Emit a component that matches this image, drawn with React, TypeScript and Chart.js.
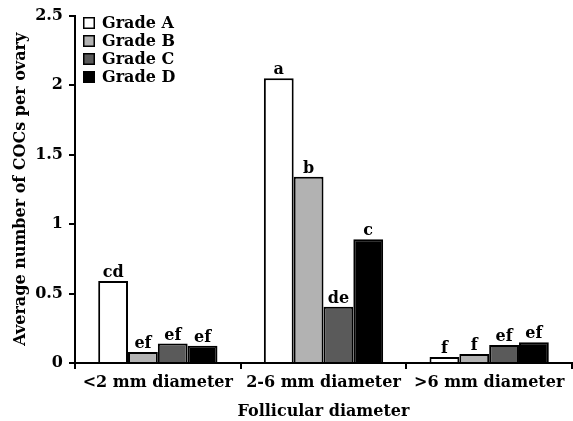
import React, { useEffect, useRef } from "react";
import { Chart, registerables } from "chart.js";

Chart.register(...registerables);

const categories = ["<2 mm diameter", "2-6 mm diameter", ">6 mm diameter"];
const seriesNames = ["Grade A", "Grade B", "Grade C", "Grade D"];
const gradeA = [0.59, 2.05, 0.043];
const gradeB = [0.08, 1.34, 0.065];
const gradeC = [0.14, 0.405, 0.13];
const gradeD = [0.125, 0.89, 0.15];
const lettersA = ["cd", "a", "f"];
const lettersB = ["ef", "b", "f"];
const lettersC = ["ef", "de", "ef"];
const lettersD = ["ef", "c", "ef"];
const yTicks = [0, 0.5, 1, 1.5, 2, 2.5];

const colors = ["#ffffff", "#b2b2b2", "#5a5a5a", "#000000"];
const FONT = "'DejaVu Serif'";

const labelPlugin = {
  id: "barLetters",
  afterDatasetsDraw(chart: any) {
    const ctx = chart.ctx;
    const letters = [lettersA, lettersB, lettersC, lettersD];
    ctx.save();
    ctx.fillStyle = "#000";
    ctx.font = `bold 16px ${FONT}`;
    ctx.textAlign = "center";
    ctx.textBaseline = "alphabetic";
    chart.data.datasets.forEach((ds: any, i: number) => {
      const meta = chart.getDatasetMeta(i);
      meta.data.forEach((bar: any, j: number) => {
        ctx.fillText(letters[i][j], bar.x, bar.y - 4);
      });
    });
    // legend
    const x0 = 83;
    const y0 = 23;
    const step = 18;
    chart.data.datasets.forEach((ds: any, i: number) => {
      const cy = y0 + i * step;
      ctx.fillStyle = ds.backgroundColor;
      ctx.fillRect(x0, cy - 6, 12, 12);
      ctx.strokeStyle = "#000";
      ctx.lineWidth = 1.5;
      ctx.strokeRect(x0 + 0.75, cy - 5.25, 10.5, 10.5);
      ctx.fillStyle = "#000";
      ctx.font = `bold 16px ${FONT}`;
      ctx.textAlign = "left";
      ctx.textBaseline = "middle";
      ctx.fillText(ds.label, x0 + 19, cy + 1);
    });
    ctx.restore();
  },
};

export default function App() {
  const ref = useRef<HTMLCanvasElement | null>(null);
  useEffect(() => {
    if (!ref.current) return;
    const values = [gradeA, gradeB, gradeC, gradeD];
    const chart = new Chart(ref.current, {
      type: "bar",
      data: {
        labels: categories,
        datasets: seriesNames.map((name, i) => ({
          label: name,
          data: values[i],
          backgroundColor: colors[i],
          borderColor: "#000",
          borderWidth: 2,
          categoryPercentage: 0.72,
          barPercentage: 1,
        })),
      },
      options: {
        responsive: false,
        animation: false,
        layout: { padding: { top: 15, right: 1, left: 0, bottom: 0 } },
        plugins: { legend: { display: false }, tooltip: { enabled: false } },
        scales: {
          x: {
            afterFit: (s: any) => {
              s.height = 58;
            },
            grid: {
              display: true,
              drawOnChartArea: false,
              drawTicks: true,
              tickLength: 6,
              color: "#000",
              lineWidth: 2,
            },
            border: { display: true, color: "#000", width: 2 },
            ticks: {
              color: "#000",
              padding: 4,
              font: { family: FONT, size: 16, weight: "bold" },
              maxRotation: 0,
            },
            title: {
              display: true,
              text: "Follicular diameter",
              color: "#000",
              font: { family: FONT, size: 16, weight: "bold" },
              padding: { top: 0, bottom: 0 },
            },
          },
          y: {
            min: 0,
            max: 2.5,
            afterFit: (s: any) => {
              s.width = 75;
            },
            afterBuildTicks: (s: any) => {
              s.ticks = yTicks.map((v) => ({ value: v }));
            },
            grid: {
              display: true,
              drawOnChartArea: false,
              drawTicks: true,
              tickLength: 6,
              color: "#000",
              lineWidth: 2,
            },
            border: { display: true, color: "#000", width: 2 },
            ticks: {
              color: "#000",
              padding: 6,
              font: { family: FONT, size: 16, weight: "bold" },
              callback: (v: any) => String(v),
            },
            title: {
              display: true,
              text: "Average number of COCs per ovary",
              color: "#000",
              font: { family: FONT, size: 16, weight: "bold" },
              padding: { top: 11, bottom: 0 },
            },
          },
        },
      },
      plugins: [labelPlugin],
    });
    return () => chart.destroy();
  }, []);
  return (
    <canvas
      ref={ref}
      width={573}
      height={421}
      style={{ position: "absolute", left: 0, top: 0, display: "block" }}
    />
  );
}
